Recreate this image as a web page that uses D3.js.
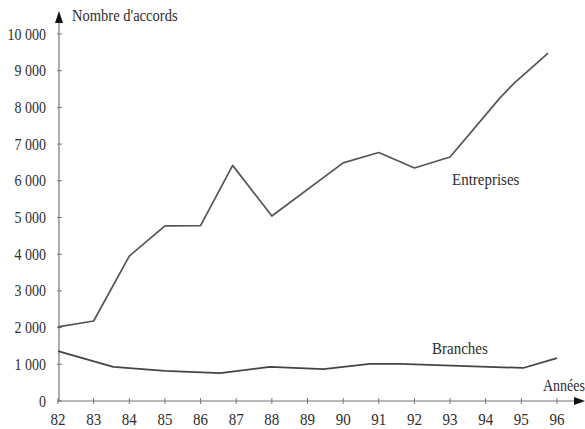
<!DOCTYPE html>
<html><head><meta charset="utf-8">
<script src="https://cdn.jsdelivr.net/npm/d3@7"></script>
<style>body{margin:0;background:#fff}svg{display:block}text{font-family:"Liberation Serif","DejaVu Serif",serif;fill:#2e2e2e}</style>
</head><body>
<script>
const yearTicks = [82,83,84,85,86,87,88,89,90,91,92,93,94,95,96];
const valueTicks = [0,1000,2000,3000,4000,5000,6000,7000,8000,9000,10000];
const entreprisesYears  = [82, 83, 84, 85, 86, 86.9, 88, 90, 91, 92, 93, 94.4, 94.8, 95.75];
const entreprisesValues = [2020, 2180, 3950, 4770, 4780, 6420, 5040, 6490, 6770, 6350, 6650, 8260, 8660, 9480];
const branchesYears  = [82, 83.55, 85, 86.55, 87.95, 89.45, 90.75, 91.6, 95.05, 96];
const branchesValues = [1360, 930, 820, 760, 930, 870, 1010, 1010, 900, 1170];
const labels = {y:"Nombre d'accords", x:"Années", a:"Entreprises", b:"Branches"};

const W=585,H=429;
const svg=d3.select("body").append("svg").attr("width",W).attr("height",H);
const x=d3.scaleLinear().domain([82,96]).range([58,557]);
const y=d3.scaleLinear().domain([0,10000]).range([401,34]);
const fmt=v=>d3.format(",")(v).replace(/,/g," ");
const FS=14, SY=1.15;

function txt(px,py,s,size,anchor,sx){
  return svg.append("text")
    .attr("transform",`translate(${px},${py}) scale(${sx||1},${SY})`)
    .attr("text-anchor",anchor||"start").attr("font-size",size).text(s);
}

// axes lines
svg.append("line").attr("x1",59).attr("x2",59).attr("y1",401).attr("y2",22).attr("stroke","#777").attr("stroke-width",1.2);
svg.append("line").attr("x1",58).attr("x2",577).attr("y1",401).attr("y2",401).attr("stroke","#777").attr("stroke-width",1.2);
svg.append("path").attr("d","M59,11 L55,23 L63,23 Z").attr("fill","#111");
svg.append("path").attr("d","M585,401 L574,397 L574,405 Z").attr("fill","#111");

// y ticks
valueTicks.forEach(v=>{
  svg.append("line").attr("x1",57).attr("x2",62).attr("y1",y(v)).attr("y2",y(v)).attr("stroke","#777");
  txt(46,y(v)+5.5,fmt(v),FS,"end");
});
// x ticks
yearTicks.forEach(v=>{
  svg.append("line").attr("x1",x(v)).attr("x2",x(v)).attr("y1",398).attr("y2",404).attr("stroke","#777");
  txt(x(v),425,v,FS+1,"middle");
});

const line=d3.line().x(d=>x(d[0])).y(d=>y(d[1]));
svg.append("path").datum(d3.zip(entreprisesYears,entreprisesValues)).attr("d",line)
  .attr("fill","none").attr("stroke","#555").attr("stroke-width",1.7).attr("stroke-linejoin","round");
svg.append("path").datum(d3.zip(branchesYears,branchesValues)).attr("d",line)
  .attr("fill","none").attr("stroke","#444").attr("stroke-width",1.7).attr("stroke-linejoin","round");

txt(72,21,labels.y,FS,"start",1.04);
txt(543,391,labels.x,FS);
txt(452,185,labels.a,FS+1);
txt(432,354,labels.b,FS+1);
</script>
</body></html>
